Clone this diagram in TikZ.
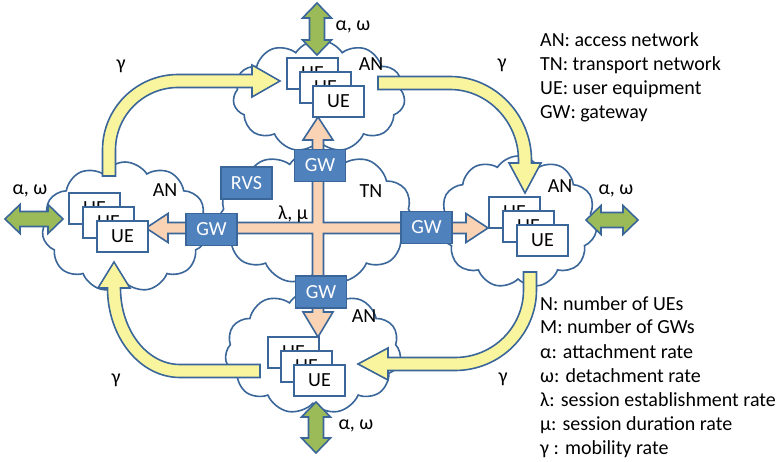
\documentclass[tikz,border=0pt]{standalone}
\usepackage{fontspec}
\setmainfont{Carlito}
\usetikzlibrary{shapes.symbols}
\definecolor{edge}{HTML}{3A6699}
\definecolor{gwblue}{HTML}{4F81BD}
\definecolor{moveyellow}{HTML}{F9F59E}
\definecolor{sessionpeach}{HTML}{FAD3B4}
\definecolor{attachgreen}{HTML}{9BBB59}
\tikzset{
  netcloud/.style={cloud, cloud puffs=11, cloud puff arc=115, cloud ignores aspect,
    draw=edge, line width=1.6pt, fill=white, inner sep=0pt},
  uebox/.style={draw=edge, line width=1.6pt, fill=white, minimum width=51pt,
    minimum height=31pt, inner sep=0pt},
  gwbox/.style={draw=edge, line width=1.6pt, fill=gwblue, text=white,
    minimum width=51pt, minimum height=32pt, inner sep=0pt},
  blockarrow/.style={draw=edge, line width=1.6pt, line join=miter},
  lbl/.style={inner sep=0pt},
  legendline/.style={inner sep=0pt, anchor=base west}
}
\begin{document}
\begin{tikzpicture}[x=1pt, y=-1pt, font=\fontsize{20}{24}\selectfont]
\useasboundingbox (0,0) rectangle (779,462);

% clouds: transport network in the middle, four access networks around it
\node[netcloud, minimum width=196pt, minimum height=134pt] (tn) at (316,217) {};
\node[netcloud, minimum width=172pt, minimum height=112pt] (antop) at (319,96) {};
\node[netcloud, minimum width=166pt, minimum height=130pt] (anleft) at (125,227) {};
\node[netcloud, minimum width=158pt, minimum height=132pt] (anright) at (518,222) {};
\node[netcloud, minimum width=176pt, minimum height=124pt] (anbottom) at (313,352) {};

% mobility arrows between the access networks
\draw[blockarrow, fill=moveyellow] (102.5,176) -- (102.5,150) .. controls (102.5,108.3) and (136.3,74.5) .. (178,74.5)
  -- (252,74.5) -- (252,65) -- (280,81) -- (252,97) -- (252,87.5) -- (178,87.5)
  .. controls (143.48,87.5) and (115.5,115.48) .. (115.5,150) -- (115.5,176) -- cycle;
\draw[blockarrow, fill=moveyellow] (378,76.5) -- (450,76.5) .. controls (495.01,76.5) and (531.5,114.99) .. (531.5,160)
  -- (531.5,163) -- (541,163) -- (525,193) -- (509,163) -- (518.5,163) -- (518.5,160)
  .. controls (518.5,122.17) and (487.83,89.5) .. (450,89.5) -- (378,89.5) -- cycle;
\draw[blockarrow, fill=moveyellow] (523.5,272) -- (536.5,272) -- (536.5,290)
  .. controls (536.5,334.46) and (500.01,370.5) .. (455,370.5)
  -- (388,370.5) -- (388,380) -- (358,364) -- (388,348) -- (388,357.5) -- (455,357.5)
  .. controls (492.83,357.5) and (523.5,327.28) .. (523.5,290) -- cycle;
\draw[blockarrow, fill=moveyellow] (260,364.5) -- (180,364.5) .. controls (147.14,364.5) and (120.5,330.25) .. (120.5,288)
  -- (130,288) -- (114,262) -- (98,288) -- (107.5,288)
  .. controls (107.5,337.43) and (139.96,377.5) .. (180,377.5) -- (260,377.5) -- cycle;

% session traffic through the transport network
\draw[blockarrow, fill=sessionpeach] (146,228) -- (168,213.5) -- (168,222.5) -- (312.5,222.5)
  -- (312.5,140) -- (303,140) -- (318,117) -- (333,140) -- (323.5,140) -- (323.5,222.5)
  -- (466,222.5) -- (466,213.5) -- (488,228) -- (466,242.5) -- (466,233.5) -- (323.5,233.5)
  -- (323.5,312) -- (333,312) -- (318,337) -- (303,312) -- (312.5,312) -- (312.5,233.5)
  -- (168,233.5) -- (168,242.5) -- cycle;

% attachment / detachment arrows
\draw[blockarrow, fill=attachgreen] (317,3) -- (331.5,18) -- (324.5,18) -- (324.5,40) -- (331.5,40)
  -- (317,55) -- (302.5,40) -- (309.5,40) -- (309.5,18) -- (302.5,18) -- cycle;
\draw[blockarrow, fill=attachgreen] (316,402) -- (330.5,417) -- (323.5,417) -- (323.5,438) -- (330.5,438)
  -- (316,453) -- (301.5,438) -- (308.5,438) -- (308.5,417) -- (301.5,417) -- cycle;
\draw[blockarrow, fill=attachgreen] (5,219) -- (20,204.5) -- (20,211.5) -- (48,211.5) -- (48,204.5)
  -- (63,219) -- (48,233.5) -- (48,226.5) -- (20,226.5) -- (20,233.5) -- cycle;
\draw[blockarrow, fill=attachgreen] (586,220) -- (601,205.5) -- (601,212.5) -- (623,212.5) -- (623,205.5)
  -- (638,220) -- (623,234.5) -- (623,227.5) -- (601,227.5) -- (601,234.5) -- cycle;

% user equipment stacks
\node[uebox] (ut1) at (312.5,73.5) {UE};
\node[uebox] (ut2) at (325.5,87.5) {UE};
\node[uebox] (ut3) at (338.5,101.5) {UE};
\node[uebox] (ul1) at (94.5,208.5) {UE};
\node[uebox] (ul2) at (108.5,222.5) {UE};
\node[uebox] (ul3) at (122.5,236.5) {UE};
\node[uebox] (ur1) at (514.5,212.5) {UE};
\node[uebox] (ur2) at (528.5,226.5) {UE};
\node[uebox] (ur3) at (542.5,240.5) {UE};
\node[uebox] (ub1) at (293.5,352.5) {UE};
\node[uebox] (ub2) at (306.5,366.5) {UE};
\node[uebox] (ub3) at (319.5,380.5) {UE};

% gateways and rendezvous server
\node[gwbox] (gwt) at (320,165.5) {GW};
\node[gwbox] (gwl) at (211.5,229.5) {GW};
\node[gwbox] (gwr) at (426.5,227.5) {GW};
\node[gwbox] (gwb) at (321,292) {GW};
\node[gwbox] (rvs) at (246.5,183) {RVS};

% network labels
\node[lbl] (lan1) at (371,64) {AN};
\node[lbl] (lan2) at (165,190) {AN};
\node[lbl] (lan3) at (560,186) {AN};
\node[lbl] (lan4) at (364,316) {AN};
\node[lbl] (ltn) at (371,191) {TN};
\node[lbl] (lsess) at (293,214) {λ, μ};

% rate labels
\node[lbl] (aw1) at (353,27) {α, ω};
\node[lbl] (aw2) at (30,191) {α, ω};
\node[lbl] (aw3) at (616,191) {α, ω};
\node[lbl] (aw4) at (356,426) {α, ω};
\node[lbl] (g1) at (121,66) {γ};
\node[lbl] (g2) at (502,65) {γ};
\node[lbl] (g3) at (116,380) {γ};
\node[lbl] (g4) at (503,379) {γ};

% legends
\node[legendline] (k1) at (540,47) {AN: access network};
\node[legendline] (k2) at (540,71) {TN: transport network};
\node[legendline] (k3) at (540,95) {UE: user equipment};
\node[legendline] (k4) at (540,119) {GW: gateway};
\node[legendline] (s1) at (540,310) {N: number of UEs};
\node[legendline] (s2) at (540,334) {M: number of GWs};
\node[legendline] (s3) at (540,358) {α: attachment rate};
\node[legendline] (s4) at (540,382) {ω: detachment rate};
\node[legendline] (s5) at (540,406) {λ: session establishment rate};
\node[legendline] (s6) at (540,430) {μ: session duration rate};
\node[legendline] (s7) at (540,454) {γ : mobility rate};
\end{tikzpicture}
\end{document}
